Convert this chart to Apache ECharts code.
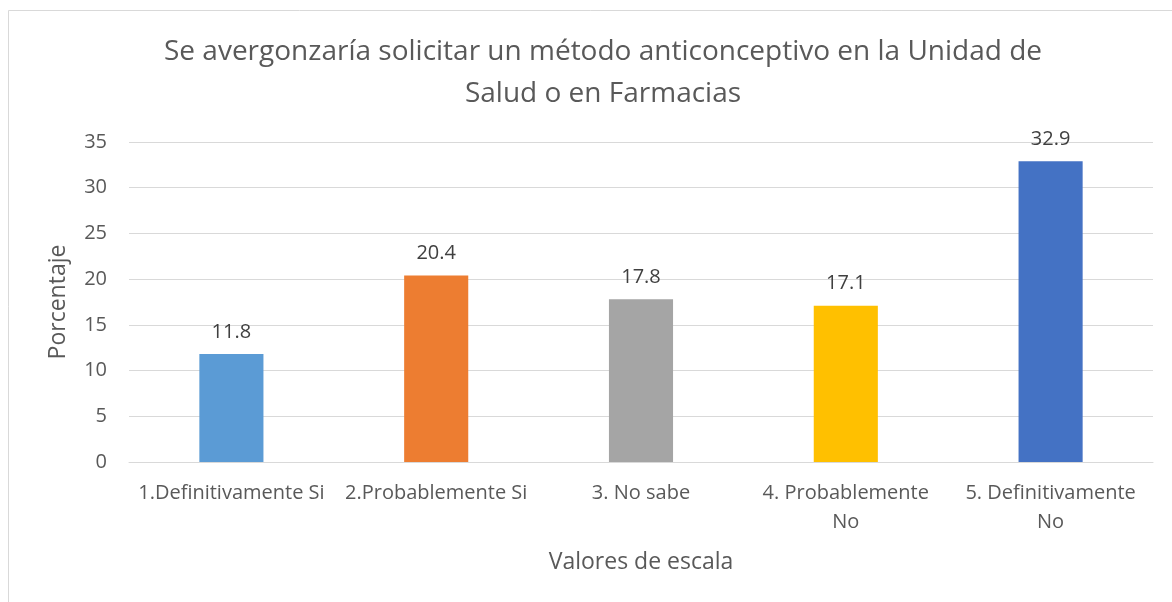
<!DOCTYPE html>
<html>
	<head>
		<meta charset="UTF-8">
		<title>Se avergonzaría solicitar un método anticonceptivo</title>
		<style>
			html, body { margin: 0; padding: 0; background: #fff; }
			#chart { width: 1172px; height: 602px; }
		</style>
	</head>
	<body>
		<div id="chart"></div>

		<script src="https://cdn.jsdelivr.net/npm/echarts@6/dist/echarts.min.js"></script>
		<script>
			// datos
			var categorias = ['1.Definitivamente Si', '2.Probablemente Si', '3. No sabe', '4. Probablemente\nNo', '5. Definitivamente\nNo'];
			var porcentajes = [11.8, 20.4, 17.8, 17.1, 32.9];
			var colores = ['#5b9bd5', '#ed7d31', '#a5a5a5', '#ffc000', '#4472c4'];
			var ticksY = [0, 5, 10, 15, 20, 25, 30, 35];

			var fuente = 'Open Sans';
			var chart = echarts.init(document.getElementById('chart'));

			var option = {
				backgroundColor: '#fff',
				animation: false,
				title: {
					text: 'Se avergonzaría solicitar un método anticonceptivo en la Unidad de\nSalud o en Farmacias',
					left: 598,
					textAlign: 'center',
					top: 26,
					textStyle: {
						color: '#595959',
						fontFamily: fuente,
						fontWeight: 'normal',
						fontSize: 28,
						lineHeight: 42
					}
				},
				graphic: [{
					type: 'rect',
					shape: { x: 8.5, y: 10.5, width: 1300, height: 700 },
					style: { fill: 'none', stroke: '#d9d9d9', lineWidth: 1 },
					silent: true
				}],
				grid: {
					left: 129,
					right: 19,
					top: 142,
					bottom: 140,
					containLabel: false
				},
				xAxis: {
					type: 'category',
					data: categorias,
					name: 'Valores de escala',
					nameLocation: 'middle',
					nameGap: 89,
					nameTextStyle: { color: '#595959', fontFamily: fuente, fontSize: 23 },
					axisLine: { lineStyle: { color: '#d9d9d9' } },
					axisTick: { show: false },
					axisLabel: {
						color: '#595959',
						fontFamily: fuente,
						fontSize: 20,
						lineHeight: 29,
						margin: 17,
						interval: 0
					}
				},
				yAxis: {
					type: 'value',
					min: ticksY[0],
					max: ticksY[ticksY.length - 1],
					interval: 5,
					name: 'Porcentaje',
					nameLocation: 'middle',
					nameGap: 59,
					nameTextStyle: { color: '#595959', fontFamily: fuente, fontSize: 23 },
					axisLine: { show: false },
					axisTick: { show: false },
					axisLabel: { color: '#595959', fontFamily: fuente, fontSize: 20, margin: 22 },
					splitLine: { lineStyle: { color: '#d9d9d9', width: 1 } }
				},
				series: [{
					type: 'bar',
					barWidth: '31.3%',
					data: porcentajes.map(function(v, i) {
						return { value: v, itemStyle: { color: colores[i] } };
					}),
					label: {
						show: true,
						position: 'top',
						distance: 12,
						color: '#404040',
						fontFamily: fuente,
						fontSize: 20
					}
				}]
			};

			chart.setOption(option);
		</script>
	</body>
</html>
